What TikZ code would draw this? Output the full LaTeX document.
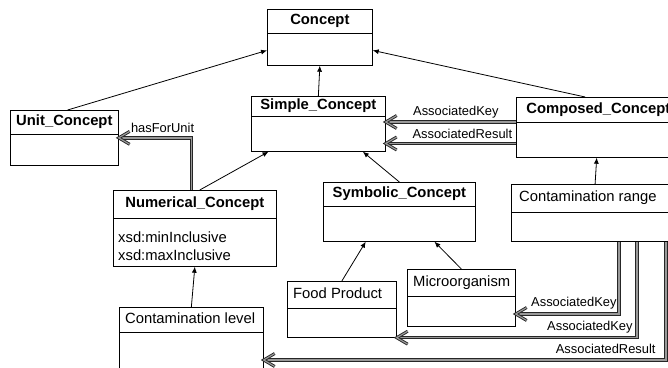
\documentclass[tikz,border=0pt]{standalone}
\usepackage{fontspec}
\setmainfont{Liberation Sans}
\usetikzlibrary{positioning,calc,arrows.meta,shadows}
\usetikzlibrary{decorations.markings}

\begin{document}
\begin{tikzpicture}[x=1pt, y=-1pt,
      cls/.style = {draw, line width=0.7pt, fill=white, anchor=north west,
         inner sep=0pt, drop shadow={shadow xshift=0.9pt,
         shadow yshift=-0.9pt, fill=black, opacity=1}},
      sep/.style = {line width=0.7pt},
      ctitle/.style = {font=\fontsize{14.8}{17}\selectfont\bfseries,
         inner sep=0pt, text height=10.5pt, text depth=3pt},
      cname/.style = {font=\fontsize{14.8}{17}\selectfont,
         inner sep=0pt, text height=10.5pt, text depth=3pt},
      attr/.style = {font=\fontsize{14.8}{17.7}\selectfont, align=left,
         inner sep=0pt},
      lbl/.style = {font=\fontsize{12.9}{15}\selectfont, inner sep=0pt},
      isa/.style = {line width=0.8pt, -{Latex[length=6pt,width=5pt]}},
      hatch/.style = {draw=black!85, double=black!40, line width=0.9pt,
         double distance=1.5pt},
      assoc/.style = {hatch, postaction={decorate}, decoration={markings,
         mark=at position 1 with {\draw[hatch, double distance=1.2pt,
         line join=miter] (-11pt,6.5pt) -- (0pt,0pt) -- (-11pt,-6.5pt);}}}]

   \useasboundingbox (0,0) rectangle (668,367);
   \clip (0,0) rectangle (668,367);

   % classes
   \node[cls, minimum width=105pt, minimum height=56pt] (concept) at (267,9) {};
   \node[ctitle, below=5.2pt of concept.north] (concepttitle) {Concept};
   \draw[sep] ($(concept.north west)+(0,24)$) -- ($(concept.north east)+(0,24)$);

   \node[cls, minimum width=108pt, minimum height=55pt] (unit) at (10,110) {};
   \node[ctitle, below=5.2pt of unit.north] (unittitle) {Unit\_Concept};
   \draw[sep] ($(unit.north west)+(0,24)$) -- ($(unit.north east)+(0,24)$);

   \node[cls, minimum width=134pt, minimum height=55pt] (simple) at (251,96) {};
   \node[ctitle, below=3.2pt of simple.north] (simpletitle) {Simple\_Concept};
   \draw[sep] ($(simple.north west)+(0,20)$) -- ($(simple.north east)+(0,20)$);

   \node[cls, minimum width=164pt, minimum height=60pt] (composed) at (516,97) {};
   \node[ctitle, below=5.7pt of composed.north] (composedtitle) {Composed\_Concept};
   \draw[sep] ($(composed.north west)+(0,25)$) -- ($(composed.north east)+(0,25)$);

   \node[cls, minimum width=163pt, minimum height=76pt] (numerical) at (113,190) {};
   \node[ctitle, below=7.2pt of numerical.north] (numericaltitle) {Numerical\_Concept};
   \draw[sep] ($(numerical.north west)+(0,28)$) -- ($(numerical.north east)+(0,28)$);
   \node[attr, anchor=north west, below right=41.5pt and 5pt of numerical.north west]
      (numattr) {xsd:minInclusive\\xsd:maxInclusive};

   \node[cls, minimum width=152pt, minimum height=59pt] (symbolic) at (323,182) {};
   \node[ctitle, below=5.2pt of symbolic.north] (symbolictitle) {Symbolic\_Concept};
   \draw[sep] ($(symbolic.north west)+(0,24)$) -- ($(symbolic.north east)+(0,24)$);

   \node[cls, minimum width=161pt, minimum height=57pt] (range) at (511,184) {};
   \node[cname, below right=7.2pt and 8pt of range.north west] (rangetitle) {Contamination range};
   \draw[sep] ($(range.north west)+(0,28)$) -- ($(range.north east)+(0,28)$);

   \node[cls, minimum width=109pt, minimum height=56pt] (food) at (287,281) {};
   \node[cname, below right=6.7pt and 6pt of food.north west] (foodtitle) {Food Product};
   \draw[sep] ($(food.north west)+(0,27)$) -- ($(food.north east)+(0,27)$);

   \node[cls, minimum width=108pt, minimum height=57pt] (micro) at (407,269) {};
   \node[cname, below right=6.7pt and 6pt of micro.north west] (microtitle) {Microorganism};
   \draw[sep] ($(micro.north west)+(0,27)$) -- ($(micro.north east)+(0,27)$);

   \node[cls, minimum width=144pt, minimum height=80pt] (level) at (119,307) {};
   \node[cname, below right=5.7pt and 6pt of level.north west] (leveltitle) {Contamination level};
   \draw[sep] ($(level.north west)+(0,25)$) -- ($(level.north east)+(0,25)$);

   % subclass links
   \draw[isa] ($(unit.north west)!.53!(unit.north east)$)
      -- ($(concept.north west)!.73!(concept.south west)$);
   \draw[isa] (simple.north) -- (concept.south);
   \draw[isa] ($(composed.north west)!.42!(composed.north east)$)
      -- ($(concept.north east)!.73!(concept.south east)$);
   \draw[isa] ($(numerical.north west)!.53!(numerical.north east)$)
      -- ($(simple.south west)!.13!(simple.south east)$);
   \draw[isa] (symbolic.north) -- ($(simple.south west)!.83!(simple.south east)$);
   \draw[isa] ($(range.north west)!.52!(range.north east)$)
      -- ($(composed.south west)!.49!(composed.south east)$);
   \draw[isa] (food.north) -- ($(symbolic.south west)!.28!(symbolic.south east)$);
   \draw[isa] (micro.north) -- ($(symbolic.south west)!.73!(symbolic.south east)$);
   \draw[isa] (level.north) -- (numerical.south);

   % object properties
   \coordinate (ckey) at ($(composed.north west)+(0,25)$);
   \coordinate (cres) at ($(composed.north west)+(0,46.5)$);
   \draw[assoc] (ckey) -- (ckey -| simple.east)
      node[lbl, midway, anchor=base, xshift=5pt, yshift=7pt] {AssociatedKey};
   \draw[assoc] (cres) -- (cres -| simple.east)
      node[lbl, midway, anchor=base, xshift=11.5pt, yshift=5.5pt] {AssociatedResult};

   \draw[assoc] ($(numerical.north west)!.48!(numerical.north east)$) |- (unit.east)
      node[lbl, pos=.5, anchor=base east, xshift=3pt, yshift=5pt] {hasForUnit};

   \coordinate (rk1) at ($(range.south west)+(108,0)$);
   \coordinate (rk2) at ($(range.south west)+(126,0)$);
   \coordinate (rr)  at ($(range.south west)+(155,0)$);
   \draw[assoc] (rk1) |- ($(micro.north east)+(0,45)$)
      node[lbl, pos=.5, anchor=base east, xshift=-2pt, yshift=8pt] {AssociatedKey};
   \draw[assoc] (rk2) |- (food.south east)
      node[lbl, pos=.5, anchor=base east, xshift=-4pt, yshift=7pt] {AssociatedKey};
   \draw[assoc] (rr) |- ($(level.north east)+(0,53)$)
      node[lbl, pos=.5, anchor=base east, xshift=-10pt, yshift=7pt] {AssociatedResult};
\end{tikzpicture}
\end{document}
